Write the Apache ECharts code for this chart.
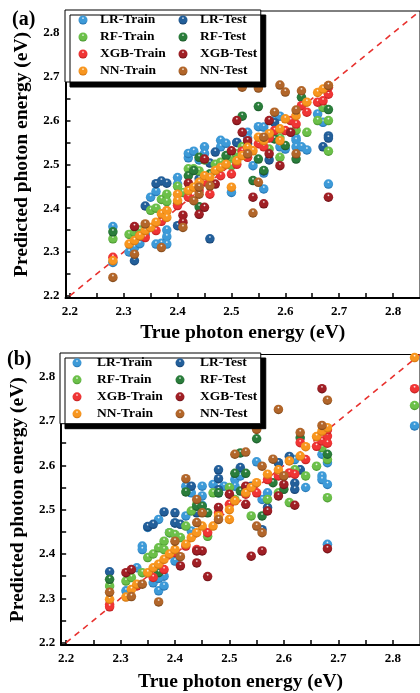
<!DOCTYPE html>
<html><head><meta charset="utf-8">
<script src="https://cdn.jsdelivr.net/npm/echarts@6/dist/echarts.min.js"></script>
<style>html,body{margin:0;padding:0;background:#fff}#c{width:420px;height:693px}</style>
</head><body><div id="c"></div>
<script>
const seriesNames = ['LR-Train','LR-Test','RF-Train','RF-Test','XGB-Train','XGB-Test','NN-Train','NN-Test'];
const tickValues = [2.2,2.25,2.3,2.35,2.4,2.45,2.5,2.55,2.6,2.65,2.7,2.75,2.8];
const labelValues = [2.2,2.3,2.4,2.5,2.6,2.7,2.8];
const identityLine = [[2.2,2.2],[2.85,2.85]];

// Panel (a)
const aLRTrain = [[2.28,2.358],[2.28,2.276],[2.31,2.30],[2.32,2.31],[2.33,2.319],[2.34,2.34],[2.35,2.425],[2.36,2.438],[2.36,2.318],[2.37,2.32],[2.38,2.35],[2.38,2.335],[2.38,2.318],[2.40,2.47],[2.40,2.455],[2.42,2.515],[2.42,2.525],[2.43,2.53],[2.45,2.54],[2.45,2.525],[2.44,2.51],[2.48,2.555],[2.48,2.54],[2.49,2.548],[2.50,2.436],[2.51,2.55],[2.53,2.573],[2.53,2.56],[2.54,2.497],[2.55,2.586],[2.56,2.585],[2.56,2.444],[2.56,2.48],[2.58,2.60],[2.59,2.61],[2.59,2.54],[2.60,2.535],[2.62,2.56],[2.62,2.555],[2.62,2.54],[2.63,2.54],[2.64,2.533],[2.66,2.615],[2.67,2.596],[2.68,2.455]];
const aLRTest = [[2.32,2.28],[2.34,2.405],[2.37,2.462],[2.38,2.457],[2.40,2.36],[2.43,2.486],[2.46,2.503],[2.46,2.33],[2.47,2.528],[2.51,2.55],[2.53,2.547],[2.56,2.485],[2.57,2.51],[2.58,2.595],[2.67,2.54],[2.68,2.565],[2.68,2.56],[2.44,2.467],[2.36,2.456]];
const aRFTrain = [[2.28,2.33],[2.31,2.34],[2.32,2.345],[2.33,2.35],[2.35,2.395],[2.36,2.40],[2.37,2.42],[2.38,2.432],[2.38,2.415],[2.40,2.45],[2.41,2.436],[2.42,2.49],[2.43,2.49],[2.44,2.485],[2.45,2.51],[2.46,2.478],[2.47,2.50],[2.48,2.505],[2.50,2.516],[2.50,2.497],[2.51,2.524],[2.52,2.54],[2.57,2.535],[2.59,2.516],[2.59,2.56],[2.62,2.578],[2.64,2.573],[2.66,2.60],[2.67,2.63],[2.68,2.60],[2.68,2.53]];
const aRFTest = [[2.28,2.346],[2.40,2.41],[2.42,2.474],[2.43,2.486],[2.44,2.403],[2.44,2.516],[2.46,2.478],[2.49,2.52],[2.52,2.61],[2.55,2.632],[2.55,2.512],[2.54,2.463],[2.56,2.486],[2.58,2.558],[2.60,2.543],[2.62,2.512],[2.63,2.653],[2.68,2.625]];
const aXGBTrain = [[2.28,2.288],[2.33,2.337],[2.34,2.333],[2.36,2.349],[2.37,2.37],[2.38,2.394],[2.40,2.406],[2.42,2.425],[2.44,2.44],[2.45,2.46],[2.46,2.432],[2.48,2.474],[2.50,2.478],[2.51,2.50],[2.52,2.53],[2.53,2.516],[2.55,2.547],[2.56,2.54],[2.57,2.56],[2.58,2.577],[2.60,2.577],[2.61,2.60],[2.62,2.592],[2.63,2.634],[2.64,2.619],[2.66,2.642],[2.67,2.645],[2.68,2.66],[2.68,2.676]];
const aXGBTest = [[2.32,2.358],[2.41,2.384],[2.41,2.368],[2.42,2.457],[2.44,2.386],[2.45,2.402],[2.45,2.512],[2.47,2.455],[2.50,2.531],[2.51,2.60],[2.52,2.573],[2.53,2.554],[2.54,2.425],[2.56,2.41],[2.57,2.60],[2.57,2.524],[2.59,2.497],[2.61,2.573],[2.68,2.425]];
const aNNTrain = [[2.28,2.28],[2.31,2.318],[2.32,2.326],[2.33,2.337],[2.34,2.349],[2.35,2.356],[2.36,2.368],[2.37,2.387],[2.38,2.394],[2.38,2.379],[2.40,2.432],[2.40,2.417],[2.42,2.44],[2.43,2.448],[2.44,2.459],[2.45,2.474],[2.46,2.47],[2.47,2.486],[2.48,2.493],[2.49,2.50],[2.50,2.448],[2.51,2.508],[2.52,2.52],[2.53,2.539],[2.54,2.531],[2.55,2.562],[2.56,2.554],[2.57,2.57],[2.59,2.581],[2.59,2.554],[2.60,2.604],[2.62,2.611],[2.64,2.642],[2.66,2.664],[2.67,2.672],[2.68,2.68]];
const aNNTest = [[2.28,2.242],[2.32,2.295],[2.34,2.364],[2.37,2.31],[2.41,2.356],[2.43,2.417],[2.44,2.432],[2.44,2.448],[2.46,2.451],[2.52,2.676],[2.53,2.524],[2.54,2.389],[2.55,2.674],[2.55,2.459],[2.56,2.562],[2.58,2.619],[2.59,2.681],[2.60,2.665],[2.62,2.624],[2.62,2.524],[2.63,2.668],[2.68,2.68]];

// Panel (b)
const bLRTrain = [[2.31,2.317],[2.33,2.369],[2.34,2.418],[2.34,2.41],[2.35,2.46],[2.36,2.335],[2.37,2.478],[2.37,2.317],[2.38,2.328],[2.38,2.35],[2.37,2.345],[2.39,2.448],[2.40,2.47],[2.40,2.384],[2.42,2.553],[2.42,2.486],[2.43,2.538],[2.43,2.452],[2.45,2.553],[2.45,2.531],[2.45,2.51],[2.47,2.557],[2.48,2.538],[2.49,2.553],[2.51,2.568],[2.51,2.553],[2.52,2.576],[2.55,2.608],[2.56,2.523],[2.57,2.538],[2.59,2.605],[2.60,2.576],[2.62,2.613],[2.63,2.59],[2.64,2.55],[2.67,2.625],[2.67,2.576],[2.67,2.568],[2.68,2.606],[2.68,2.557],[2.68,2.422],[2.84,2.689]];
const bLRTest = [[2.28,2.36],[2.35,2.462],[2.36,2.467],[2.38,2.495],[2.40,2.493],[2.40,2.47],[2.41,2.467],[2.43,2.553],[2.44,2.493],[2.48,2.59],[2.48,2.57],[2.48,2.545],[2.52,2.595],[2.54,2.553],[2.56,2.455],[2.57,2.505],[2.59,2.606],[2.61,2.62],[2.62,2.56],[2.62,2.546],[2.63,2.59]];
const bRFTrain = [[2.28,2.328],[2.31,2.339],[2.32,2.347],[2.34,2.358],[2.35,2.392],[2.36,2.40],[2.37,2.414],[2.38,2.429],[2.38,2.41],[2.39,2.448],[2.40,2.444],[2.41,2.437],[2.42,2.463],[2.43,2.497],[2.44,2.512],[2.46,2.44],[2.47,2.538],[2.50,2.55],[2.51,2.523],[2.54,2.486],[2.57,2.523],[2.59,2.538],[2.61,2.516],[2.62,2.59],[2.64,2.576],[2.66,2.598],[2.67,2.64],[2.68,2.613],[2.68,2.527],[2.84,2.735]];
const bRFTest = [[2.28,2.343],[2.37,2.358],[2.42,2.54],[2.44,2.508],[2.45,2.508],[2.46,2.493],[2.48,2.538],[2.51,2.582],[2.52,2.628],[2.52,2.542],[2.53,2.582],[2.55,2.66],[2.56,2.486],[2.58,2.561],[2.60,2.546],[2.63,2.662],[2.68,2.625]];
const bXGBTrain = [[2.28,2.286],[2.28,2.281],[2.33,2.328],[2.36,2.347],[2.38,2.365],[2.40,2.403],[2.42,2.418],[2.44,2.41],[2.46,2.448],[2.48,2.493],[2.50,2.512],[2.53,2.535],[2.55,2.538],[2.57,2.568],[2.59,2.576],[2.61,2.583],[2.62,2.58],[2.63,2.651],[2.64,2.613],[2.66,2.643],[2.67,2.655],[2.68,2.666],[2.68,2.65],[2.68,2.68],[2.84,2.773]];
const bXGBTest = [[2.31,2.358],[2.32,2.365],[2.41,2.373],[2.44,2.38],[2.45,2.407],[2.44,2.407],[2.46,2.349],[2.48,2.505],[2.50,2.535],[2.53,2.553],[2.53,2.512],[2.54,2.395],[2.56,2.407],[2.57,2.497],[2.59,2.531],[2.60,2.557],[2.62,2.51],[2.67,2.773],[2.68,2.412]];
const bNNTrain = [[2.28,2.298],[2.31,2.303],[2.32,2.32],[2.33,2.332],[2.35,2.358],[2.36,2.369],[2.37,2.377],[2.38,2.388],[2.39,2.40],[2.40,2.41],[2.42,2.422],[2.43,2.437],[2.44,2.448],[2.45,2.463],[2.47,2.463],[2.48,2.486],[2.50,2.478],[2.50,2.50],[2.51,2.52],[2.53,2.538],[2.54,2.55],[2.55,2.561],[2.57,2.58],[2.59,2.59],[2.61,2.61],[2.63,2.621],[2.64,2.642],[2.66,2.665],[2.67,2.677],[2.68,2.685],[2.84,2.843]];
const bNNTest = [[2.28,2.314],[2.32,2.304],[2.34,2.332],[2.37,2.292],[2.40,2.429],[2.41,2.394],[2.42,2.57],[2.44,2.523],[2.44,2.471],[2.45,2.493],[2.48,2.478],[2.51,2.625],[2.53,2.63],[2.55,2.681],[2.55,2.463],[2.56,2.598],[2.56,2.448],[2.58,2.614],[2.59,2.726],[2.60,2.576],[2.63,2.674],[2.67,2.69],[2.68,2.747]];

const panelA = [aLRTrain,aLRTest,aRFTrain,aRFTest,aXGBTrain,aXGBTest,aNNTrain,aNNTest];
const panelB = [bLRTrain,bLRTest,bRFTrain,bRFTest,bXGBTrain,bXGBTest,bNNTrain,bNNTest];

const baseColors = ['#3d9ad8','#235f9a','#6cc04a','#2a7d3b','#f03535','#a01f25','#f8961f','#b2662a'];
const darkColors = ['#1c68a6','#113864','#3d8a26','#154f22','#b01717','#5d0c11','#c86a08','#713f14'];

function ball(i){
  return {type:'radial', x:0.5, y:0.3, r:0.72, colorStops:[
    {offset:0, color:'#ffffff'},
    {offset:0.2, color:baseColors[i]},
    {offset:0.68, color:baseColors[i]},
    {offset:1, color:darkColors[i]}]};
}

const FONT = 'Liberation Serif';
const chart = echarts.init(document.getElementById('c'), null, {renderer:'canvas'});

function xAxis(gi, min, gap){
  return {type:'value', gridIndex:gi, min:min, max:2.85,
    axisLine:{show:true, onZero:false, lineStyle:{color:'#000', width:2}},
    axisTick:{show:true, inside:true, length:5, customValues:tickValues, lineStyle:{color:'#000', width:1.5}},
    axisLabel:{customValues:labelValues, formatter:v=>v.toFixed(1), color:'#000', fontFamily:FONT, fontWeight:'bold', fontSize:13, margin:7},
    splitLine:{show:false},
    name:'True photon energy (eV)', nameLocation:'middle', nameGap:gap,
    nameTextStyle:{color:'#000', fontFamily:FONT, fontWeight:'bold', fontSize:19.5}};
}
function yAxis(gi, gap){
  return {type:'value', gridIndex:gi, min:2.195, max:2.85,
    axisLine:{show:true, onZero:false, lineStyle:{color:'#000', width:2}},
    axisTick:{show:true, inside:true, length:5, customValues:tickValues, lineStyle:{color:'#000', width:1.5}},
    axisLabel:{customValues:labelValues, formatter:v=>v.toFixed(1), color:'#000', fontFamily:FONT, fontWeight:'bold', fontSize:13, margin:6},
    splitLine:{show:false},
    name:'Predicted photon energy (eV)', nameLocation:'middle', nameGap:gap,
    nameTextStyle:{color:'#000', fontFamily:FONT, fontWeight:'bold', fontSize:19.5}};
}
function legend(left, top, pad, gapW){
  return {left:left, top:top, orient:'horizontal', width:230, padding:pad, itemGap:2,
    itemWidth:9, itemHeight:9, icon:'circle', selectedMode:false,
    backgroundColor:'#fff', borderColor:'#000', borderWidth:1,
    shadowColor:'#000', shadowBlur:0, shadowOffsetX:5, shadowOffsetY:5,
    formatter: name => (/Train$/.test(name) ? '{g|}{c1|' + name + '}' : '{g|}{c2|' + name + '}'),
    textStyle:{fontFamily:FONT, fontWeight:'bold', fontSize:13.5, color:'#000', lineHeight:15,
      rich:{
        g:{width:gapW, height:15},
        c1:{width:76.5, fontFamily:FONT, fontWeight:'bold', fontSize:13.5, color:'#000', lineHeight:15},
        c2:{fontFamily:FONT, fontWeight:'bold', fontSize:13.5, color:'#000', lineHeight:15}
      }},
    data: seriesNames};
}

const series = [];
[panelA, panelB].forEach((panel, gi)=>{
  series.push({type:'line', xAxisIndex:gi, yAxisIndex:gi, data:identityLine, symbol:'none', silent:true, z:1,
    lineStyle:{color:'#e8322f', width:1.6, type:[6,5]}});
  panel.forEach((d,i)=>{
    series.push({type:'scatter', name:seriesNames[i], xAxisIndex:gi, yAxisIndex:gi, data:d,
      symbol:'circle', symbolSize:9.5, z:2, itemStyle:{color:ball(i), opacity:1}});
  });
});

chart.setOption({
  animation:false,
  backgroundColor:'#fff',
  grid:[
    {left:65.5, top:11, width:356, height:287, show:true, borderColor:'#000', borderWidth:1},
    {left:60, top:354.5, width:362.5, height:290.4, show:true, borderColor:'#000', borderWidth:1}
  ],
  xAxis:[xAxis(0, 2.192, 25), xAxis(1, 2.191, 27)],
  yAxis:[yAxis(0, 25), yAxis(1, 25)],
  legend:[legend(65, 10, [2.5,3.5,3.5,13.5], 7.5), legend(60, 353, [2.35,3.5,2.35,12.5], 10.5)],
  graphic:[
    {type:'text', left:12, top:10, style:{text:'(a)', font:'bold 20px "Liberation Serif"', fill:'#000'}},
    {type:'text', left:7, top:350, style:{text:'(b)', font:'bold 20px "Liberation Serif"', fill:'#000'}}
  ],
  series:series
});
</script>
</body></html>
